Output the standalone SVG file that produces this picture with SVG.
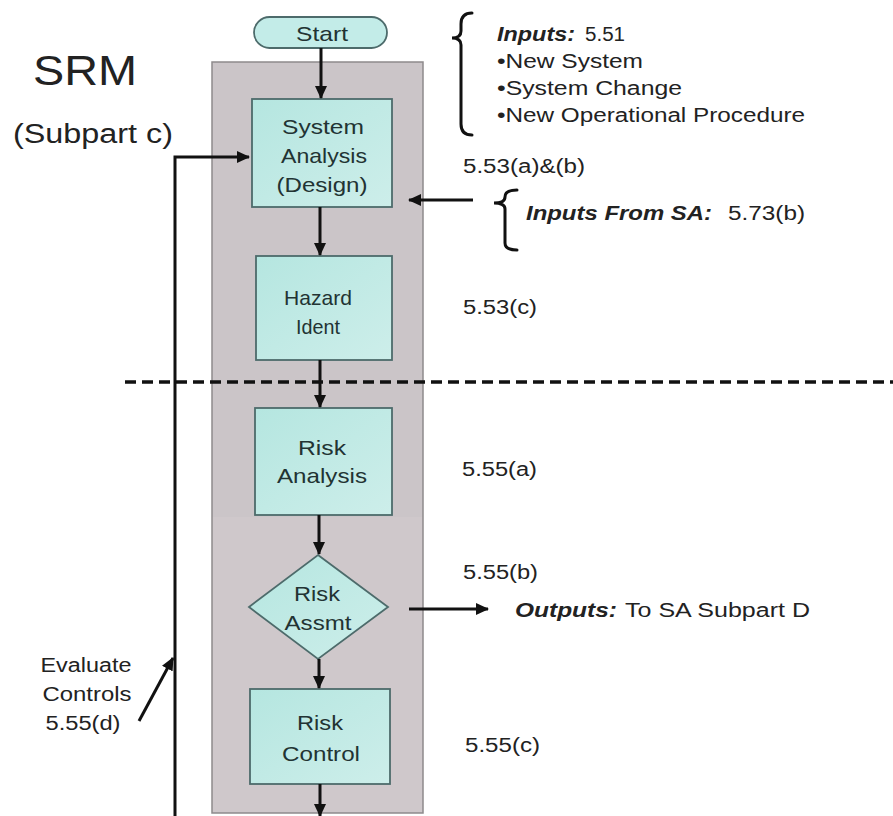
<svg xmlns="http://www.w3.org/2000/svg" width="893" height="816" viewBox="0 0 893 816">
<defs>
<marker id="ah" markerUnits="userSpaceOnUse" markerWidth="14" markerHeight="12" refX="12" refY="6" orient="auto">
<path d="M0,0 L13,6 L0,12 Z" fill="#111"/>
</marker>
<linearGradient id="boxg" x1="0" y1="0" x2="1" y2="1">
<stop offset="0" stop-color="#b5e6e0"/>
<stop offset="1" stop-color="#cdeeea"/>
</linearGradient>
</defs>
<style>
text{font-family:"Liberation Sans",Arial,sans-serif;fill:#222}
.bt{font-size:21px;fill:#223333;text-anchor:middle}
.lb{font-size:20px}
.it{font-style:italic;font-weight:bold}
.box{fill:url(#boxg);stroke:#4d6b6b;stroke-width:1.8}
.ln{stroke:#111;stroke-width:3;fill:none}
.br{stroke:#111;stroke-width:3;fill:none;stroke-linecap:round}
</style>
<rect width="893" height="816" fill="#ffffff"/>
<g id="column">
<rect x="212" y="62" width="211" height="751" fill="#cbc5c8"/>
<rect x="212" y="517" width="211" height="296" fill="#cfc8cb"/>
<rect x="212" y="62" width="211" height="751" fill="none" stroke="#8e8a8c" stroke-width="1.5"/>
</g>
<g id="title">
<text x="33" y="85" font-size="42" textLength="104" lengthAdjust="spacingAndGlyphs">SRM</text>
<text x="13" y="143" font-size="27" textLength="160" lengthAdjust="spacingAndGlyphs">(Subpart c)</text>
</g>
<g id="start">
<rect x="254" y="17" width="133" height="31" rx="15.5" fill="#c3ece8" stroke="#4d6b6b" stroke-width="1.8"/>
<text class="bt" x="322" y="41" font-size="20" textLength="52" lengthAdjust="spacingAndGlyphs">Start</text>
</g>
<g id="system-analysis">
<rect class="box" x="252" y="99" width="140" height="108"/>
<text class="bt" x="323" y="134" textLength="82" lengthAdjust="spacingAndGlyphs">System</text>
<text class="bt" x="324" y="163" textLength="86" lengthAdjust="spacingAndGlyphs">Analysis</text>
<text class="bt" x="322" y="192" textLength="91" lengthAdjust="spacingAndGlyphs">(Design)</text>
</g>
<g id="hazard-ident">
<rect class="box" x="256" y="256" width="136" height="104"/>
<text class="bt" x="318" y="305" textLength="68" lengthAdjust="spacingAndGlyphs">Hazard</text>
<text class="bt" x="318" y="334" textLength="44" lengthAdjust="spacingAndGlyphs">Ident</text>
</g>
<g id="risk-analysis">
<rect class="box" x="255" y="408" width="137" height="107"/>
<text class="bt" x="322" y="455" textLength="48" lengthAdjust="spacingAndGlyphs">Risk</text>
<text class="bt" x="322" y="483" textLength="90" lengthAdjust="spacingAndGlyphs">Analysis</text>
</g>
<g id="risk-assmt">
<path class="box" d="M318,555 L388,607 L318,659 L249,607 Z"/>
<text class="bt" x="317" y="601" textLength="46" lengthAdjust="spacingAndGlyphs">Risk</text>
<text class="bt" x="318" y="630" textLength="67" lengthAdjust="spacingAndGlyphs">Assmt</text>
</g>
<g id="risk-control">
<rect class="box" x="250" y="689" width="140" height="95"/>
<text class="bt" x="320" y="730" textLength="46" lengthAdjust="spacingAndGlyphs">Risk</text>
<text class="bt" x="321" y="761" textLength="78" lengthAdjust="spacingAndGlyphs">Control</text>
</g>
<g id="inputs">
<path class="br" d="M472,13 Q461,13 461,24 L461,31 Q461,38 452,38 Q461,38 461,45 L461,124 Q461,135 472,135"/>
<text class="lb it" x="497" y="41" textLength="78" lengthAdjust="spacingAndGlyphs">Inputs:</text>
<text class="lb" x="585" y="41" textLength="40" lengthAdjust="spacingAndGlyphs">5.51</text>
<text class="lb" x="497" y="68" textLength="146" lengthAdjust="spacingAndGlyphs">•New System</text>
<text class="lb" x="497" y="95" textLength="185" lengthAdjust="spacingAndGlyphs">•System Change</text>
<text class="lb" x="497" y="122" textLength="308" lengthAdjust="spacingAndGlyphs">•New Operational Procedure</text>
</g>
<g id="inputs-sa">
<path class="br" d="M517,190 Q505,190 505,197 Q505,203 494,203 Q505,203 505,209 L505,243 Q505,250 517,250"/>
<text class="lb it" x="526" y="220" textLength="186" lengthAdjust="spacingAndGlyphs">Inputs From SA:</text>
<text class="lb" x="728" y="220" textLength="77" lengthAdjust="spacingAndGlyphs">5.73(b)</text>
</g>
<g id="outputs">
<text class="lb it" x="515" y="617" textLength="102" lengthAdjust="spacingAndGlyphs">Outputs:</text>
<text class="lb" x="625" y="617" textLength="185" lengthAdjust="spacingAndGlyphs">To SA Subpart D</text>
</g>
<g id="refs">
<text class="lb" x="463" y="173" textLength="122" lengthAdjust="spacingAndGlyphs">5.53(a)&amp;(b)</text>
<text class="lb" x="463" y="314" textLength="74" lengthAdjust="spacingAndGlyphs">5.53(c)</text>
<text class="lb" x="462" y="476" textLength="75" lengthAdjust="spacingAndGlyphs">5.55(a)</text>
<text class="lb" x="463" y="579" textLength="75" lengthAdjust="spacingAndGlyphs">5.55(b)</text>
<text class="lb" x="465" y="752" textLength="75" lengthAdjust="spacingAndGlyphs">5.55(c)</text>
</g>
<g id="evaluate">
<text class="lb" x="86" y="672" text-anchor="middle" textLength="91" lengthAdjust="spacingAndGlyphs">Evaluate</text>
<text class="lb" x="87" y="701" text-anchor="middle" textLength="89" lengthAdjust="spacingAndGlyphs">Controls</text>
<text class="lb" x="83" y="730" text-anchor="middle" textLength="75" lengthAdjust="spacingAndGlyphs">5.55(d)</text>
</g>
<g id="connectors">
<line class="ln" x1="321" y1="48" x2="321" y2="98" marker-end="url(#ah)"/>
<line class="ln" x1="320" y1="207" x2="320" y2="255" marker-end="url(#ah)"/>
<line class="ln" x1="320" y1="360" x2="320" y2="407" marker-end="url(#ah)"/>
<line class="ln" x1="319" y1="515" x2="319" y2="554" marker-end="url(#ah)"/>
<line class="ln" x1="319" y1="659" x2="319" y2="688" marker-end="url(#ah)"/>
<line class="ln" x1="320" y1="784" x2="320" y2="816" marker-end="url(#ah)"/>
<polyline class="ln" points="175,816 175,157 249,157" marker-end="url(#ah)"/>
<line class="ln" x1="473" y1="200" x2="409" y2="200" marker-end="url(#ah)"/>
<line class="ln" x1="409" y1="609" x2="488" y2="609" marker-end="url(#ah)"/>
<line class="ln" x1="139" y1="721" x2="173" y2="658" marker-end="url(#ah)"/>
<line x1="125" y1="382" x2="893" y2="382" stroke="#111" stroke-width="3.5" stroke-dasharray="11 6"/>
</g>
</svg>
